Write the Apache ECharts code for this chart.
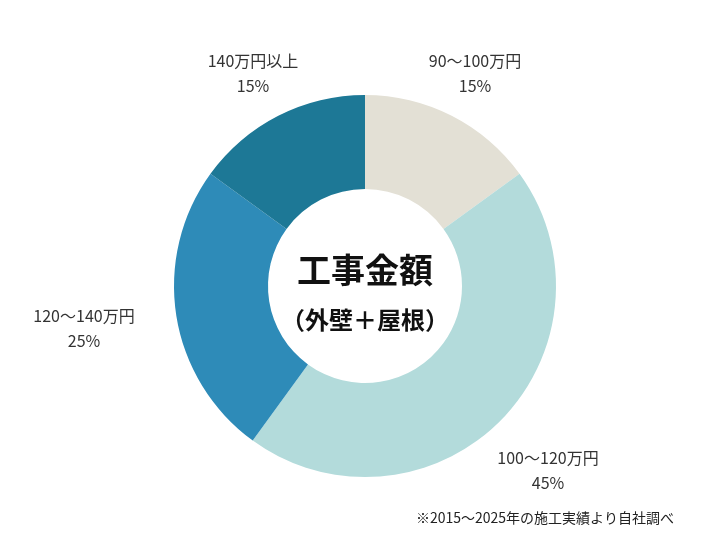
<!DOCTYPE html>
<html><head><meta charset="utf-8">
<script src="https://cdn.jsdelivr.net/npm/echarts@6/dist/echarts.min.js"></script>
<style>html,body{margin:0;background:#fff}#chart{width:720px;height:540px}</style>
</head><body><div id="chart"></div>
<script>
var categories = ['90〜100万円', '100〜120万円', '120〜140万円', '140万円以上'];
var shares = [15, 45, 25, 15];
var colors = ['#E3E0D5', '#B3DBDB', '#2E8BB8', '#1D7896'];
// label spots around the ring, same order as categories
var labelPos = [[475, 73], [548, 470], [84, 328], [253, 73]];

var myChart = echarts.init(document.getElementById('chart'));
var font = '"Noto Sans CJK JP", sans-serif';
var graphics = categories.map(function(c, i){
	return {
		type: 'text', x: labelPos[i][0], y: labelPos[i][1],
		style: { text: c + '\n' + shares[i] + '%', align: 'center', verticalAlign: 'middle',
			fontSize: 16, lineHeight: 25, fill: '#333', fontFamily: font }
	};
});
graphics.push({ type: 'text', x: 365, y: 270, style: { text: '工事金額', align: 'center', verticalAlign: 'middle', fontSize: 34, fontWeight: 'bold', fill: '#111', fontFamily: font } });
graphics.push({ type: 'text', x: 365, y: 320, style: { text: '（外壁＋屋根）', align: 'center', verticalAlign: 'middle', fontSize: 24, fontWeight: 'bold', fill: '#111', fontFamily: font } });
graphics.push({ type: 'text', x: 545, y: 518, style: { text: '※2015〜2025年の施工実績より自社調べ', align: 'center', verticalAlign: 'middle', fontSize: 14, fill: '#222', fontFamily: font } });

var option = {
	animation: false,
	series: [{
		type: 'pie',
		center: [365, 286],
		radius: [97, 191],
		startAngle: 90,
		label: { show: false },
		labelLine: { show: false },
		data: categories.map(function(c, i){
			return { name: c, value: shares[i], itemStyle: { color: colors[i] } };
		})
	}],
	graphic: graphics
};
myChart.setOption(option);
</script></body></html>
